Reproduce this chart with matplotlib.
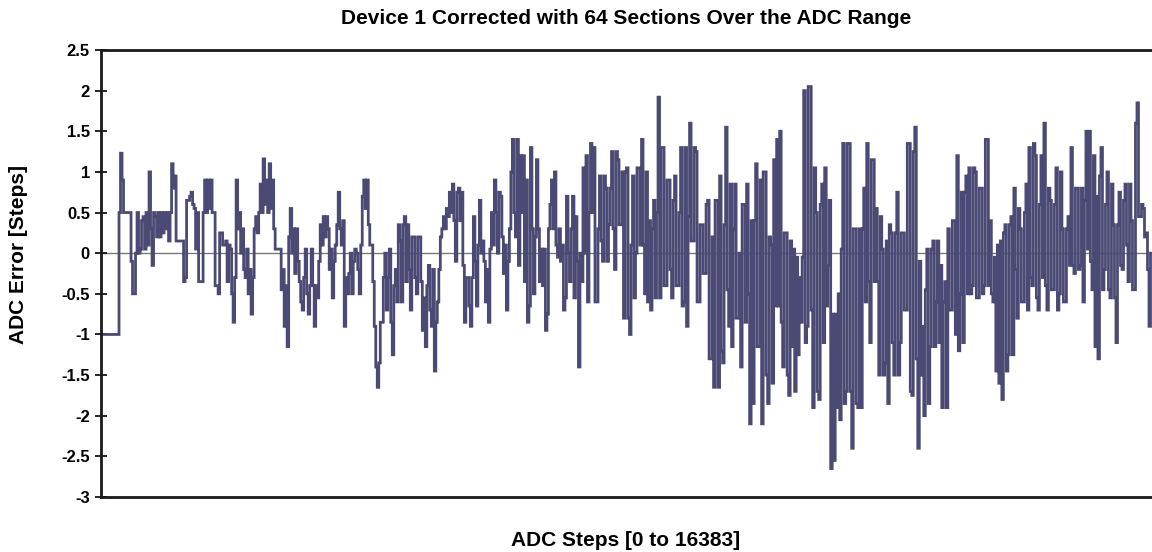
import numpy as np
import matplotlib
matplotlib.use("Agg")
import matplotlib.pyplot as plt

plt.rcParams['font.family'] = ['Liberation Sans', 'DejaVu Sans']
plt.rcParams['font.weight'] = 'bold'

# ADC error: 700 values spread evenly over ADC steps 0..16383
err_a = [-1, -1, -1, -1, -1, -1, -1, -1, -1, -1, -1, -1, 0.5, 1.23, 0.9, 0.5, 0.5, 0.5, 0.5, 0.5,
         -0.1, -0.5, -0.5, 0.0, 0.5, 0.0, 0.05, 0.4, 0.45, 0.05, 0.5, 0.1, 1.0, 0.3, -0.15, 0.5, 0.45, 0.2, 0.5, 0.2,
         0.5, 0.25, 0.5, 0.3, 0.5, 0.15, 0.5, 1.1, 0.8, 0.95, 0.15, 0.15, 0.15, 0.15, 0.15, -0.35, -0.3, 0.65, 0.65, 0.7,
         0.75, 0.6, 0.55, 0.05, 0.5, -0.35, -0.35, -0.35, 0.5, 0.9, 0.5, 0.9, 0.55, 0.9, 0.5, 0.5, -0.4, -0.4, -0.5, 0.25,
         0.25, 0.1, 0.1, 0.15, -0.35, 0.1, 0.05, -0.5, -0.85, -0.3, 0.9, 0.3, 0.5, 0.0, 0.3, -0.2, -0.3, 0.05, -0.5, -0.2,
         -0.75, -0.3, 0.3, 0.45, 0.25, 0.5, 0.85, 0.5, 1.16, 0.6, 0.9, 0.5, 1.1, 0.55, 0.9, 0.3, 0.05, 0.05, 0.05, 0.05,
         -0.45, -0.2, -0.9, -0.4, -1.15, 0.2, 0.55, 0.0, 0.3, -0.25, 0.3, -0.1, -0.35, -0.6, -0.7, -0.3, 0.05, -0.5, -0.75, -0.4]
err_b = [0.05, -0.4, -0.9, -0.4, -0.55, -0.1, 0.35, 0.1, 0.45, 0.2, 0.45, 0.3, -0.2, 0.05, -0.55, -0.1, 0.1, 0.35, 0.75, 0.3,
         0.1, 0.4, -0.9, -0.3, -0.5, -0.25, 0.0, -0.5, -0.1, 0.05, 0.0, -0.2, -0.5, 0.1, 0.7, 0.9, 0.55, 0.9, 0.35, 0.1,
         0.1, -0.35, -0.9, -1.4, -1.65, -1.35, -0.85, -0.85, -0.3, 0.0, -0.7, -0.3, 0.05, -0.85, -1.25, -0.4, -0.2, -0.6, 0.35, 0.15,
         -0.6, 0.35, 0.45, -0.35, 0.35, -0.2, -0.7, 0.2, 0.2, -0.3, -0.5, 0.2, 0.2, -0.35, -0.95, -0.55, -1.15, -0.4, -0.15, -0.7,
         -0.9, -0.2, -1.45, -0.85, -0.6, -0.2, 0.2, 0.3, 0.45, 0.3, 0.55, 0.45, 0.75, 0.5, 0.85, 0.4, -0.1, 0.75, 0.8, 0.4,
         0.75, -0.15, -0.85, -0.3, -0.3, -0.65, -0.9, -0.3, 0.45, -0.1, -0.65, 0.1, 0.65, 0.0, 0.15, -0.1, -0.6, -0.2, -0.85, 0.05,
         0.5, 0.1, 0.9, 0.5, 0.0, 0.75, 0.7, 0.2, -0.25, 0.1, -0.7, -0.1, 0.3, 1.0, 1.4, 0.5, 0.2, 1.4, -0.15, 1.2]
err_c = [0.5, 1.2, -0.35, 0.9, -0.85, -0.65, 1.3, 0.3, -0.5, 0.2, 1.15, 0.3, -0.35, 0.05, -0.4, 0.05, -0.95, -0.75, 0.3, 0.6,
         0.9, 0.3, 1.0, 0.1, -0.05, 0.3, -0.1, 0.1, -0.7, -0.55, 0.7, 0.0, -0.35, 0.3, 0.7, -0.55, 0.45, -0.1, -1.4, 0.0,
         -0.35, 1.05, 0.0, 1.2, -0.6, 0.5, 1.35, 0.5, 1.3, -0.6, -0.6, 0.3, 0.95, 0.15, -0.1, 0.95, 0.8, -0.1, 0.35, 0.8,
         1.25, 0.3, -0.2, 1.25, 1.15, 0.35, 0.35, 1.0, -0.8, 1.0, 1.05, -0.8, -1.0, 0.1, 0.95, -0.55, 0.0, 1.05, 1.05, 0.1,
         1.4, 0.1, -0.5, 1.0, -0.6, 0.4, -0.7, 0.3, 0.65, -0.55, 0.5, 1.92, -0.55, 1.3, 1.3, -0.4, -0.4, 0.9, 0.9, -0.2,
         -0.55, 0.65, 0.95, -0.4, -0.4, 0.5, 1.3, -0.65, -0.6, 1.3, -0.9, 0.45, 1.6, 0.15, 0.15, 1.3, 1.25, -0.6, -0.6, 0.35,
         0.35, -0.25, -0.25, 0.6, 0.65, -1.3, -1.3, 0.2, -1.65, 0.65, 0.65, -1.65, 0.95, -1.2, -1.35, 0.35, 1.55, -0.45, -0.9, 0.85]
err_d = [-1.15, 0.3, 0.85, -0.8, -0.8, 0.0, -1.4, 0.6, 0.6, -0.85, 0.85, -0.5, -2.1, 0.4, -1.85, 0.4, 1.1, -1.15, -1.15, 0.9,
         -2.1, 1.0, 1.0, -1.5, -1.85, 0.2, 0.1, -1.6, 1.15, -0.65, 1.4, -0.65, 1.5, -0.85, -1.4, 0.25, 0.25, -1.5, -1.75, 0.15,
         -1.15, 0.05, -1.7, -0.05, -1.25, -0.3, -0.85, -0.05, 2.0, -1.1, -0.9, 2.05, 2.05, -0.7, -1.9, 1.05, 0.5, -1.7, -1.8, 0.6,
         0.85, -1.1, 1.05, -0.65, -0.15, 0.65, -2.65, -0.75, -2.55, -0.75, -1.9, -0.5, -2.05, 0.05, 1.35, -1.85, -1.7, 1.35, 1.35, -1.7,
         -2.4, 0.3, 0.3, -1.85, -1.9, 0.3, -1.9, 0.3, 0.8, -0.6, 1.35, -0.35, -1.1, 1.15, 1.15, -0.35, 0.55, -0.35, -1.5, 0.45,
         0.05, -1.5, -1.35, 0.15, -1.85, 0.35, 0.25, -1.1, -1.5, 0.25, 0.75, -1.5, -1.1, 0.25, 0.25, -0.7, -0.7, 1.35, 1.35, -1.7,
         -1.75, 1.25, 1.55, -1.3, -2.4, -0.1, -1.5, -0.9, -2.0, -0.45, 0.05, -1.85, -1.15, 0.05, 0.15, -1.15, -0.6, 0.15, -1.1, -0.15]
err_e = [-1.9, -0.6, -0.35, -1.9, 0.3, -0.7, -0.7, 0.4, 0.4, -1.0, 1.2, -1.2, -0.5, 0.75, -1.1, 0.75, 0.95, -0.5, 1.05, -0.5,
         -0.4, 1.05, 1.0, -0.55, -0.55, 0.8, 0.8, -0.5, -0.4, 1.4, 1.4, -0.4, 0.4, -0.5, -0.6, -0.05, -1.45, 0.1, -1.6, 0.15,
         -1.8, 0.25, 0.35, -1.45, -1.25, 0.35, 0.45, -1.25, 0.8, -0.2, -0.8, 0.55, 0.3, -0.6, -0.6, 0.5, 0.85, -0.7, 1.3, -0.3,
         -0.4, 1.35, 1.2, -0.55, -0.7, 0.6, 1.2, -0.3, 1.6, -0.4, -0.7, 0.8, 0.65, -0.45, -0.45, 0.6, 1.05, -0.7, -0.5, 1.0,
         0.3, -0.6, -0.6, 0.3, 0.45, -0.15, 1.3, -0.15, -0.25, 0.8, 0.8, -0.2, -0.15, 0.8, -0.6, 0.65, 1.5, 0.05, 1.5, -0.1,
         -0.45, 1.2, -1.15, 0.7, -1.3, 0.95, 1.3, -0.45, -0.2, 0.6, 1.0, -0.45, -0.55, 0.85, 0.35, -0.55, -1.1, 0.35, 0.75, -0.15,
         -0.2, 0.65, 0.85, 0.1, -0.35, 0.85, 0.4, -0.45, -0.45, 1.6, 1.85, 0.45, 0.45, 0.6, 0.55, 0.2, 0.25, -0.2, -0.9, 0.0]

y_ticks = [2.5, 2, 1.5, 1, 0.5, 0, -0.5, -1, -1.5, -2, -2.5, -3]
y_tick_labels = ['2.5', '2', '1.5', '1', '0.5', '0', '-0.5', '-1', '-1.5', '-2', '-2.5', '-3']

err = np.array(err_a + err_b + err_c + err_d + err_e)
edges = np.linspace(0, 16384, len(err) + 1)

fig = plt.figure(figsize=(11.52, 5.52), dpi=100)
ax = fig.add_axes([101/1152, 55/552, 1051/1152, 447/552])

ax.axhline(0, color='#7a7a7a', lw=1.0, zorder=1)
ax.stairs(err, edges, baseline=None, color='#4b4a74', lw=2.0, zorder=2)

ax.set_xlim(0, 16384)
ax.set_ylim(-3, 2.5)
ax.set_xticks([])
ax.set_yticks(y_ticks)
ax.set_yticklabels(y_tick_labels)
ax.tick_params(axis='y', direction='inout', length=8, width=1.2, labelsize=12, pad=4)

for s in ['left', 'top', 'bottom']:
    ax.spines[s].set_linewidth(2)
    ax.spines[s].set_color('#1a1a1a')
ax.spines['right'].set_visible(False)

fig.text(626/1152, 1 - 19/552, 'Device 1 Corrected with 64 Sections Over the ADC Range',
         ha='center', va='center', fontsize=15, fontweight='bold')
fig.text(626/1152, 1 - 540/552, 'ADC Steps [0 to 16383]',
         ha='center', va='center', fontsize=15, fontweight='bold')
fig.text(19/1152, 1 - 255/552, 'ADC Error [Steps]', rotation=90,
         ha='center', va='center', fontsize=15, fontweight='bold')

fig.savefig('out.png', dpi=100)
